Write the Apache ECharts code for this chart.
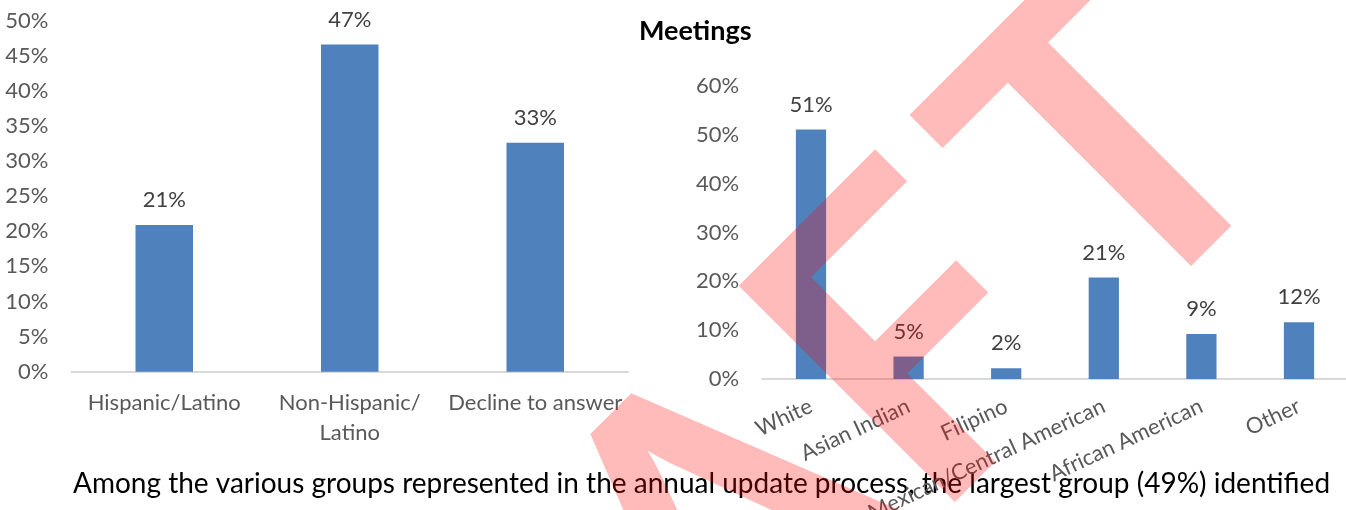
<!DOCTYPE html>
<html>
<head>
<meta charset="utf-8">
<script src="https://cdn.jsdelivr.net/npm/echarts@6/dist/echarts.min.js"></script>
<style>
  html, body { margin: 0; padding: 0; background: #fff; }
  #chart { width: 1346px; height: 510px; }
</style>
</head>
<body>
<div id="chart"></div>
<script>
// left chart: ethnicity
const ethnicityCategories = ['Hispanic/Latino', 'Non-Hispanic/Latino', 'Decline to answer']
const ethnicityValues = [20.9, 46.6, 32.6]
const ethnicityTicks = [0, 5, 10, 15, 20, 25, 30, 35, 40, 45, 50]

// right chart: race
const raceCategories = ['White', 'Asian Indian', 'Filipino', 'Mexican/Central American', 'African American', 'Other']
const raceValues = [51.1, 4.6, 2.2, 20.8, 9.2, 11.6]
const raceTicks = [0, 10, 20, 30, 40, 50, 60]

const rightTitle = 'Meetings'
const bodyText = 'Among the various groups represented in the annual update process, the largest group (49%) identified'
const watermark = 'DRAFT'

const font = 'Lato'
const barColor = '#4F81BD'

const chart = echarts.init(document.getElementById('chart'), null, { renderer: 'canvas' })

function valueAxis(ticks, idx) {
  return {
    type: 'value',
    gridIndex: idx,
    min: ticks[0],
    max: ticks[ticks.length - 1],
    interval: ticks[1] - ticks[0],
    axisLine: { show: false },
    axisTick: { show: false },
    splitLine: { show: false },
    axisLabel: {
      margin: 23,
      color: '#595959',
      fontFamily: font,
      fontSize: 22,
      formatter: v => v + '%'
    }
  }
}

function barSeries(values, idx) {
  return {
    type: 'bar',
    xAxisIndex: idx,
    yAxisIndex: idx,
    data: values,
    barWidth: '31%',
    itemStyle: { color: barColor },
    label: {
      show: true,
      position: 'top',
      distance: 14,
      color: '#404040',
      fontFamily: font,
      fontSize: 22,
      formatter: p => Math.round(p.value) + '%'
    },
    silent: true,
    animation: false
  }
}

// watermark: 45 degree text, the T sits a bit further from the F than Lato puts it
function watermarkParts() {
  const wmFont = 'bold 423px ' + font
  const ctx = document.createElement('canvas').getContext('2d')
  ctx.font = wmFont
  const full = ctx.measureText(watermark).width
  const head = ctx.measureText(watermark.slice(0, -1)).width
  const c = [695, 569] // centre of the word
  const b = [Math.SQRT1_2, -Math.SQRT1_2] // reading direction
  const start = [c[0] - b[0] * full / 2, c[1] - b[1] * full / 2]
  const tail = head + 30
  const part = (text, d) => ({
    type: 'text',
    x: start[0] + b[0] * d,
    y: start[1] + b[1] * d,
    rotation: Math.PI / 4,
    z: 100,
    silent: true,
    style: {
      text: text,
      fontFamily: font,
      fontWeight: 'bold',
      fontSize: 423,
      fill: 'rgba(255, 0, 0, 0.27)',
      align: 'left',
      verticalAlign: 'middle'
    }
  })
  return [part(watermark.slice(0, -1), 0), part(watermark.slice(-1), tail)]
}

chart.setOption({
  backgroundColor: '#fff',
  title: {
    text: rightTitle,
    left: 639,
    top: 18,
    padding: 0,
    textStyle: { fontFamily: font, fontWeight: 'bold', fontSize: 27, color: '#000' }
  },
  grid: [
    { left: 71.5, top: 20.7, width: 556.5, height: 351, outerBoundsMode: 'none' },
    { left: 762.2, top: 86, width: 585.6, height: 293, outerBoundsMode: 'none' }
  ],
  xAxis: [{
    type: 'category',
    gridIndex: 0,
    data: ethnicityCategories,
    axisLine: { lineStyle: { color: '#D9D9D9', width: 2 } },
    axisTick: { show: false },
    axisLabel: {
      interval: 0,
      margin: 16,
      lineHeight: 30,
      color: '#595959',
      fontFamily: font,
      fontSize: 22,
      // excel wrapped this one after the slash
      formatter: v => v.indexOf('Non-') === 0 ? v.replace('/', '/\n') : v
    }
  }, {
    type: 'category',
    gridIndex: 1,
    data: raceCategories,
    axisLine: { lineStyle: { color: '#D9D9D9', width: 2 } },
    axisTick: { show: false },
    axisLabel: {
      interval: 0,
      rotate: 25,
      margin: 26,
      hideOverlap: false,
      color: '#595959',
      fontFamily: font,
      fontSize: 22
    }
  }],
  yAxis: [valueAxis(ethnicityTicks, 0), valueAxis(raceTicks, 1)],
  series: [barSeries(ethnicityValues, 0), barSeries(raceValues, 1)],
  graphic: [{
    type: 'text',
    x: 73,
    y: 484,
    silent: true,
    style: {
      text: bodyText,
      fontFamily: font,
      fontSize: 28,
      fill: '#000',
      align: 'left',
      verticalAlign: 'middle'
    }
  }].concat(watermarkParts())
})
</script>
</body>
</html>
